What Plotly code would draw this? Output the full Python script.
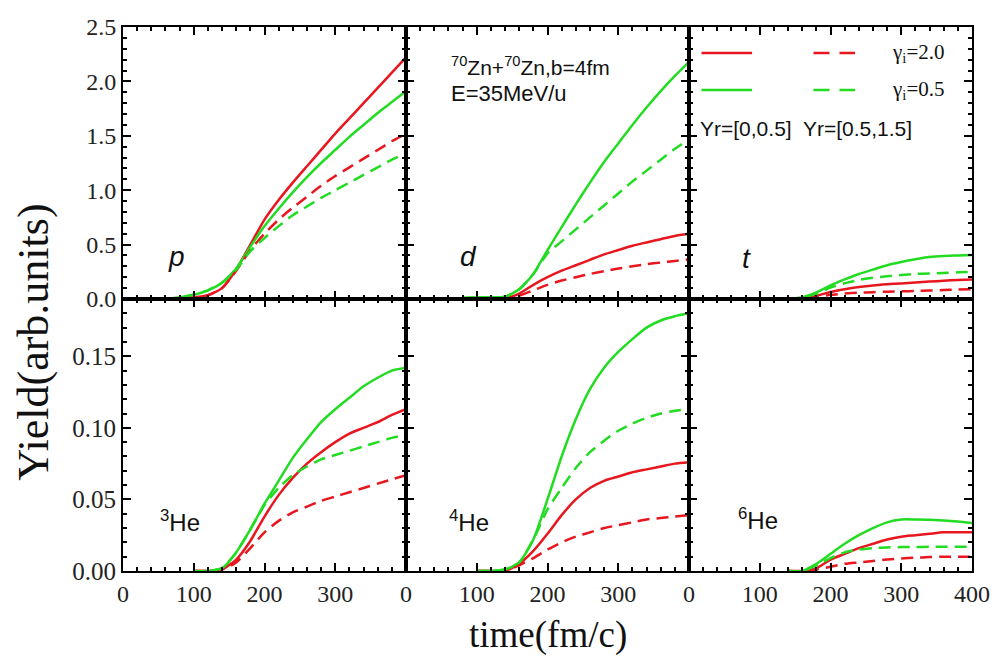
import plotly.graph_objects as go
from plotly.subplots import make_subplots

# time grid (fm/c)
T = [0, 20, 40, 60, 80, 100, 120, 140, 160, 180, 200, 220, 240, 260, 280, 300, 320, 340, 360, 380, 400]
N = None

# yields per particle species: red = gamma_i=2.0, green = gamma_i=0.5
# solid = Yr in [0,0.5], dashed = Yr in [0.5,1.5]
p_red_solid = [N, N, N, 0, 0.005, 0.015, 0.035, 0.10, 0.27, 0.50, 0.73, 0.91, 1.07, 1.22, 1.37, 1.52, 1.66, 1.80, 1.94, 2.08, 2.22]
p_grn_solid = [N, N, N, 0, 0.015, 0.04, 0.08, 0.15, 0.28, 0.48, 0.67, 0.83, 0.98, 1.12, 1.25, 1.37, 1.49, 1.60, 1.71, 1.81, 1.91]
p_red_dash = [N, N, N, 0, 0.005, 0.015, 0.035, 0.10, 0.26, 0.45, 0.60, 0.73, 0.84, 0.94, 1.04, 1.13, 1.21, 1.29, 1.37, 1.45, 1.52]
p_grn_dash = [N, N, N, 0, 0.015, 0.04, 0.08, 0.15, 0.27, 0.44, 0.56, 0.67, 0.77, 0.85, 0.93, 1.00, 1.07, 1.14, 1.21, 1.28, 1.34]

d_red_solid = [N, N, N, N, 0, 0, 0, 0.005, 0.05, 0.13, 0.20, 0.26, 0.31, 0.36, 0.41, 0.45, 0.49, 0.52, 0.55, 0.58, 0.60]
d_grn_solid = [N, N, N, N, 0.01, 0.015, 0.015, 0.02, 0.09, 0.23, 0.45, 0.66, 0.87, 1.07, 1.26, 1.43, 1.60, 1.76, 1.91, 2.05, 2.18]
d_red_dash = [N, N, N, N, 0, 0, 0, 0.005, 0.03, 0.08, 0.13, 0.17, 0.20, 0.23, 0.255, 0.28, 0.30, 0.32, 0.335, 0.35, 0.365]
d_grn_dash = [N, N, N, N, 0.01, 0.015, 0.015, 0.02, 0.09, 0.23, 0.42, 0.53, 0.64, 0.75, 0.86, 0.97, 1.08, 1.18, 1.28, 1.38, 1.47]

t_red_solid = [N, N, N, N, N, N, N, 0, 0.005, 0.03, 0.065, 0.09, 0.11, 0.125, 0.135, 0.143, 0.151, 0.16, 0.168, 0.175, 0.18]
t_grn_solid = [N, N, N, N, N, N, N, 0, 0.015, 0.06, 0.125, 0.18, 0.23, 0.27, 0.31, 0.34, 0.365, 0.385, 0.395, 0.40, 0.405]
t_red_dash = [N, N, N, N, N, N, N, 0, 0.003, 0.02, 0.038, 0.05, 0.058, 0.063, 0.067, 0.07, 0.074, 0.078, 0.082, 0.086, 0.09]
t_grn_dash = [N, N, N, N, N, N, N, 0, 0.015, 0.05, 0.105, 0.145, 0.175, 0.195, 0.21, 0.22, 0.23, 0.235, 0.24, 0.245, 0.25]

he3_red_solid = [N, N, N, N, N, 0, 0, 0.001, 0.008, 0.021, 0.038, 0.053, 0.065, 0.075, 0.083, 0.090, 0.096, 0.100, 0.104, 0.109, 0.113]
he3_grn_solid = [N, N, N, N, N, 0, 0, 0.002, 0.013, 0.029, 0.047, 0.063, 0.079, 0.092, 0.104, 0.113, 0.121, 0.129, 0.135, 0.140, 0.142]
he3_red_dash = [N, N, N, N, N, 0, 0, 0.001, 0.006, 0.016, 0.027, 0.035, 0.041, 0.045, 0.049, 0.052, 0.055, 0.058, 0.061, 0.064, 0.067]
he3_grn_dash = [N, N, N, N, N, 0, 0, 0.002, 0.013, 0.029, 0.046, 0.058, 0.067, 0.073, 0.078, 0.081, 0.084, 0.087, 0.090, 0.093, 0.095]

he4_red_solid = [N, N, N, N, N, 0, 0, 0, 0.005, 0.014, 0.026, 0.039, 0.050, 0.058, 0.063, 0.066, 0.069, 0.071, 0.073, 0.075, 0.076]
he4_grn_solid = [N, N, N, N, N, 0, 0, 0.001, 0.006, 0.022, 0.050, 0.080, 0.106, 0.127, 0.142, 0.153, 0.162, 0.170, 0.175, 0.178, 0.180]
he4_red_dash = [N, N, N, N, N, 0, 0, 0, 0.004, 0.009, 0.015, 0.020, 0.024, 0.027, 0.030, 0.032, 0.034, 0.036, 0.037, 0.038, 0.039]
he4_grn_dash = [N, N, N, N, N, 0, 0, 0.001, 0.006, 0.022, 0.043, 0.058, 0.072, 0.083, 0.091, 0.098, 0.103, 0.107, 0.110, 0.112, 0.113]

he6_red_solid = [N, N, N, N, N, N, N, 0, 0, 0.002, 0.008, 0.012, 0.016, 0.019, 0.022, 0.024, 0.025, 0.026, 0.027, 0.027, 0.027]
he6_grn_solid = [N, N, N, N, N, N, N, 0, 0, 0.005, 0.012, 0.019, 0.025, 0.030, 0.034, 0.036, 0.036, 0.0358, 0.0352, 0.0345, 0.0335]
he6_red_dash = [N, N, N, N, N, N, N, 0, 0, 0.001, 0.003, 0.005, 0.006, 0.007, 0.008, 0.0088, 0.0093, 0.0097, 0.010, 0.010, 0.010]
he6_grn_dash = [N, N, N, N, N, N, N, 0, 0, 0.004, 0.009, 0.013, 0.015, 0.016, 0.0165, 0.0167, 0.0168, 0.0169, 0.017, 0.017, 0.017]

panels = [
    (1, 1, [p_red_solid, p_grn_solid, p_red_dash, p_grn_dash]),
    (1, 2, [d_red_solid, d_grn_solid, d_red_dash, d_grn_dash]),
    (1, 3, [t_red_solid, t_grn_solid, t_red_dash, t_grn_dash]),
    (2, 1, [he3_red_solid, he3_grn_solid, he3_red_dash, he3_grn_dash]),
    (2, 2, [he4_red_solid, he4_grn_solid, he4_red_dash, he4_grn_dash]),
    (2, 3, [he6_red_solid, he6_grn_solid, he6_red_dash, he6_grn_dash]),
]

top_ticks = [0, 0.5, 1.0, 1.5, 2.0, 2.5]
top_labels = ["0.0", "0.5", "1.0", "1.5", "2.0", "2.5"]
bot_ticks = [0, 0.05, 0.10, 0.15]
bot_labels = ["0.00", "0.05", "0.10", "0.15"]
x_ticks = [0, 100, 200, 300, 400]
x_labels_inner = ["0", "100", "200", "300", ""]
x_labels_last = ["0", "100", "200", "300", "400"]

RED = "#e8161e"
GREEN = "#22dc22"
DASH = "12px,7px"
styles = [(RED, "solid"), (GREEN, "solid"), (RED, DASH), (GREEN, DASH)]

fig = make_subplots(rows=2, cols=3, horizontal_spacing=0, vertical_spacing=0)

for r, c, series in panels:
    for ys, (col, dash) in zip(series, styles):
        fig.add_trace(go.Scatter(x=T, y=ys, mode="lines", showlegend=False,
                                 line=dict(color=col, width=2.5, dash=dash,
                                           shape="spline", smoothing=0.6),
                                 connectgaps=False),
                      row=r, col=c)

serif = "Liberation Serif"
sans = "Liberation Sans"

axis_common = dict(showline=True, linecolor="black", linewidth=2, mirror="allticks",
                   ticks="inside", ticklen=8, tickwidth=2, tickcolor="black",
                   showgrid=False, zeroline=False)

for r in (1, 2):
    for c in (1, 2, 3):
        fig.update_xaxes(row=r, col=c, range=[0, 400], tickvals=x_ticks,
                         ticktext=(x_labels_last if c == 3 else x_labels_inner),
                         showticklabels=(r == 2),
                         tickfont=dict(family=serif, size=24, color="#222"),
                         minor=dict(dtick=20, ticks="inside", ticklen=4, tickwidth=1.5,
                                    tickcolor="black"),
                         **axis_common)
        if r == 1:
            fig.update_yaxes(row=r, col=c, range=[0, 2.5], tickvals=top_ticks,
                             ticktext=top_labels, showticklabels=(c == 1),
                             minor=dict(dtick=0.1, ticks="inside", ticklen=4, tickwidth=1.5,
                                        tickcolor="black"),
                             tickfont=dict(family=serif, size=24, color="#222"),
                             **axis_common)
        else:
            fig.update_yaxes(row=r, col=c, range=[0, 0.19], tickvals=bot_ticks,
                             ticktext=bot_labels, showticklabels=(c == 1),
                             minor=dict(dtick=0.01, ticks="inside", ticklen=4, tickwidth=1.5,
                                        tickcolor="black"),
                             tickfont=dict(family=serif, size=25, color="#222"),
                             **axis_common)

ann = []
def label(text, x, y, size, family=sans, xanchor="center", **kw):
    ann.append(dict(text=text, x=x, y=y, xref="paper", yref="paper", showarrow=False,
                    xanchor=xanchor, yanchor="middle",
                    font=dict(family=family, size=size, color="#111"), **kw))

# particle labels
label("<i>p</i>", 0.063, 0.578, 28)
label("<i>d</i>", 0.4072, 0.578, 28)
label("<i>t</i>", 0.734, 0.574, 28)
label("<sup>3</sup>He", 0.0677, 0.092, 24)
label("<sup>4</sup>He", 0.4072, 0.092, 24)
label("<sup>6</sup>He", 0.748, 0.096, 24)

# reaction info
label("<sup>70</sup>Zn+<sup>70</sup>Zn,b=4fm", 0.384, 0.928, 21, xanchor="left")
label("E=35MeV/u", 0.384, 0.878, 22, xanchor="left")

# legend text
label("γ<sub>i</sub>=2.0", 0.9032, 0.9522, 21, family=serif, xanchor="left")
label("γ<sub>i</sub>=0.5", 0.9032, 0.8842, 21, family=serif, xanchor="left")
label("Yr=[0,0.5]  Yr=[0.5,1.5]", 0.6768, 0.8143, 21, xanchor="left")

# axis titles
label("Yield(arb.units)", -0.105, 0.421, 44, family=serif, textangle=-90)
label("time(fm/c)", 0.5006, -0.118, 37, family=serif)

shapes = []
def legend_line(x0, x1, y, color, dash):
    shapes.append(dict(type="line", xref="paper", yref="paper", x0=x0, x1=x1, y0=y, y1=y,
                       line=dict(color=color, width=2.5, dash=dash)))

legend_line(0.6814, 0.7410, 0.9522, RED, "solid")
legend_line(0.8133, 0.8623, 0.9522, RED, "16px,10px")
legend_line(0.6814, 0.7410, 0.8842, GREEN, "solid")
legend_line(0.8133, 0.8623, 0.8842, GREEN, "16px,10px")

fig.update_layout(width=1002, height=659, margin=dict(l=123, r=22, t=27, b=88),
                  paper_bgcolor="white", plot_bgcolor="white",
                  annotations=ann, shapes=shapes, showlegend=False)

fig.write_html("out.html")
